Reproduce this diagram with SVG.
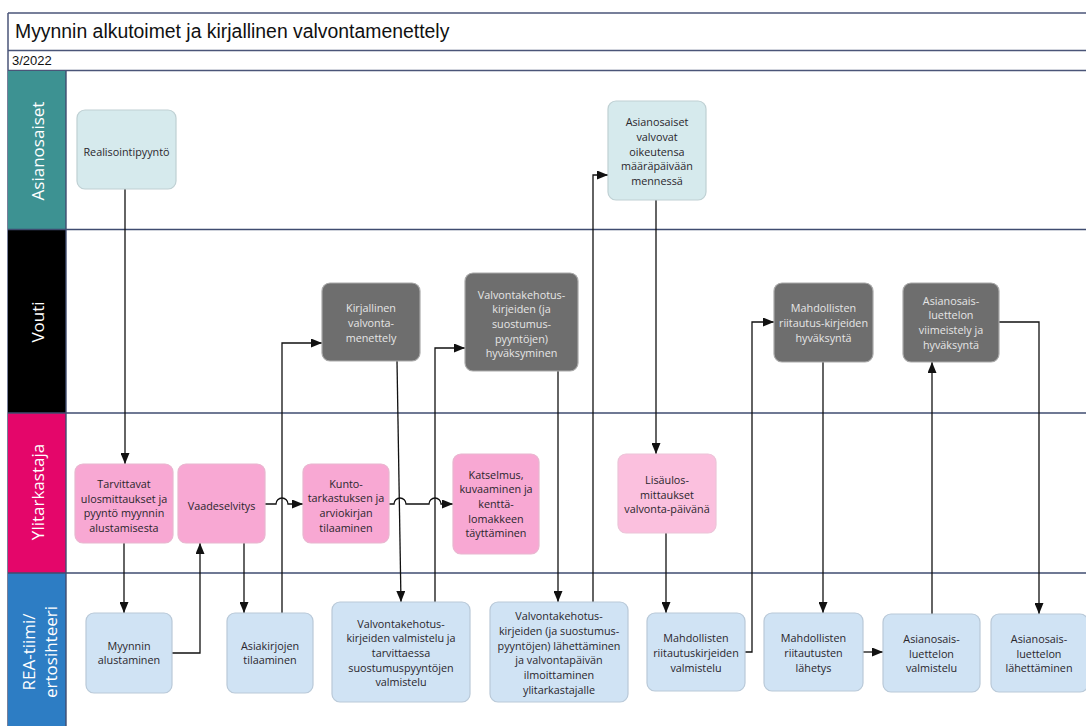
<svg xmlns="http://www.w3.org/2000/svg" width="1086" height="726" viewBox="0 0 1086 726">
<style>
.frame{stroke:#4a5578;stroke-width:1.5;fill:none}
.sep{stroke:#3f4c70;stroke-width:1.4}
.lane{font-family:"Open Sans","Noto Sans",sans-serif;font-size:17px;fill:#fff;text-anchor:middle;dominant-baseline:central}
.n rect{stroke-width:1.2}
.n text{font-family:"Open Sans","Noto Sans",sans-serif;font-size:10.8px;text-anchor:middle;dominant-baseline:central;fill:#2a262c}
.teal rect{fill:#d6eaed;stroke:#bfd0d3}
.pink rect{fill:#f8a8d3;stroke:#e8b6cf}
.lpink rect{fill:#fbc0de;stroke:#ecc4d8}
.gray rect{fill:#6e6e6e;stroke:#a9a9a9}
.gray text{fill:#e6e6e6}
.blue rect{fill:#d0e3f4;stroke:#b9c9d8}
#connectors path{fill:none;stroke:#111;stroke-width:1.3}
</style>
<defs>
<marker id="arr" markerUnits="userSpaceOnUse" markerWidth="11" markerHeight="9" refX="11" refY="4.5" orient="auto">
<path d="M0,0 L11,4.5 L0,9 z" fill="#111"/>
</marker>
</defs>
<rect x="0" y="0" width="1086" height="726" fill="#fff"/>
<g id="title">
<line class="frame" x1="8" y1="13" x2="1086" y2="13"/>
<line class="frame" x1="8" y1="50.5" x2="1086" y2="50.5"/>
<line class="frame" x1="8" y1="70.5" x2="1086" y2="70.5"/>
<line class="frame" x1="8" y1="13" x2="8" y2="726"/>
<text x="15" y="38" font-family="Liberation Sans, Arial, sans-serif" font-size="19.4" fill="#111">Myynnin alkutoimet ja kirjallinen valvontamenettely</text>
<text x="12" y="65" font-family="Liberation Sans, Arial, sans-serif" font-size="13" fill="#111">3/2022</text>
</g>
<g id="lanes">
<rect x="8" y="71" width="58" height="158.5" fill="#3d9292"/>
<rect x="8" y="229.5" width="58" height="183.5" fill="#000"/>
<rect x="8" y="413" width="58" height="160" fill="#e4066a"/>
<rect x="8" y="573" width="58" height="153" fill="#2d7dc4"/>
<line class="sep" x1="8" y1="229.5" x2="1086" y2="229.5"/>
<line class="sep" x1="8" y1="413" x2="1086" y2="413"/>
<line class="sep" x1="8" y1="573" x2="1086" y2="573"/>
<line class="sep" x1="66" y1="71" x2="66" y2="726"/>
<text class="lane" transform="translate(37,151) rotate(-90)">Asianosaiset</text>
<text class="lane" transform="translate(37,322) rotate(-90)">Vouti</text>
<text class="lane" transform="translate(37,492) rotate(-90)">Ylitarkastaja</text>
<text class="lane" transform="translate(39,652) rotate(-90)"><tspan x="0" y="-11">REA-tiimi/</tspan><tspan x="0" y="11">ertosihteeri</tspan></text>
</g>
<g id="connectors">
<path d="M125,189 V464" marker-end="url(#arr)"/>
<path d="M124,543 V613" marker-end="url(#arr)"/>
<path d="M172,653 H200 V543" marker-end="url(#arr)"/>
<path d="M244,543 V613" marker-end="url(#arr)"/>
<path d="M265,504 H276 a6,6 0 0 1 12,0 H303" marker-end="url(#arr)"/>
<path d="M282,613 V343 H322" marker-end="url(#arr)"/>
<path d="M389,504 H394 a6,6 0 0 1 12,0 H429 a6,6 0 0 1 12,0 H453" marker-end="url(#arr)"/>
<path d="M397,361 L401,602" marker-end="url(#arr)"/>
<path d="M435,602 V348 H465" marker-end="url(#arr)"/>
<path d="M558,371 V602" marker-end="url(#arr)"/>
<path d="M593,602 V175 H608" marker-end="url(#arr)"/>
<path d="M656,200 V454" marker-end="url(#arr)"/>
<path d="M666,533 V613" marker-end="url(#arr)"/>
<path d="M745,652 H752 V322 H774" marker-end="url(#arr)"/>
<path d="M823,362 V613" marker-end="url(#arr)"/>
<path d="M863,652 H883" marker-end="url(#arr)"/>
<path d="M932,614 V362" marker-end="url(#arr)"/>
<path d="M999,322 H1039 V614" marker-end="url(#arr)"/>
</g>
<g id="n1" class="n teal"><rect x="77" y="110" width="99" height="79" rx="8"/><text x="126.5" y="151">Realisointipyyntö</text></g>
<g id="n2" class="n pink"><rect x="75" y="464" width="98" height="79" rx="8"/><text x="124" y="505"><tspan x="124" dy="-22">Tarvittavat</tspan><tspan x="124" dy="14.7">ulosmittaukset ja</tspan><tspan x="124" dy="14.7">pyyntö myynnin</tspan><tspan x="124" dy="14.7">alustamisesta</tspan></text></g>
<g id="n3" class="n pink"><rect x="178" y="464" width="87" height="79" rx="8"/><text x="221.5" y="505">Vaadeselvitys</text></g>
<g id="n4" class="n blue"><rect x="86" y="613" width="86" height="80" rx="8"/><text x="129" y="652"><tspan x="129" dy="-7.35">Myynnin</tspan><tspan x="129" dy="14.7">alustaminen</tspan></text></g>
<g id="n5" class="n blue"><rect x="227" y="613" width="86" height="80" rx="8"/><text x="270" y="652"><tspan x="270" dy="-7.35">Asiakirjojen</tspan><tspan x="270" dy="14.7">tilaaminen</tspan></text></g>
<g id="n6" class="n gray"><rect x="322" y="283" width="98" height="78" rx="8"/><text x="371" y="322"><tspan x="371" dy="-14.7">Kirjallinen</tspan><tspan x="371" dy="14.7">valvonta-</tspan><tspan x="371" dy="14.7">menettely</tspan></text></g>
<g id="n7" class="n gray"><rect x="465" y="273" width="113" height="98" rx="8"/><text x="521.5" y="323"><tspan x="521.5" dy="-29.4">Valvontakehotus-</tspan><tspan x="521.5" dy="14.7">kirjeiden (ja</tspan><tspan x="521.5" dy="14.7">suostumus-</tspan><tspan x="521.5" dy="14.7">pyyntöjen)</tspan><tspan x="521.5" dy="14.7">hyväksyminen</tspan></text></g>
<g id="n8" class="n pink"><rect x="303" y="464" width="86" height="79" rx="8"/><text x="346" y="504.5"><tspan x="346" dy="-22">Kunto-</tspan><tspan x="346" dy="14.7">tarkastuksen ja</tspan><tspan x="346" dy="14.7">arviokirjan</tspan><tspan x="346" dy="14.7">tilaaminen</tspan></text></g>
<g id="n9" class="n pink"><rect x="453" y="454" width="86" height="100" rx="8"/><text x="496" y="503"><tspan x="496" dy="-29.4">Katselmus,</tspan><tspan x="496" dy="14.7">kuvaaminen ja</tspan><tspan x="496" dy="14.7">kenttä-</tspan><tspan x="496" dy="14.7">lomakkeen</tspan><tspan x="496" dy="14.7">täyttäminen</tspan></text></g>
<g id="n10" class="n blue"><rect x="332" y="602" width="138" height="100" rx="8"/><text x="401" y="652"><tspan x="401" dy="-29.4">Valvontakehotus-</tspan><tspan x="401" dy="14.7">kirjeiden valmistelu ja</tspan><tspan x="401" dy="14.7">tarvittaessa</tspan><tspan x="401" dy="14.7">suostumuspyyntöjen</tspan><tspan x="401" dy="14.7">valmistelu</tspan></text></g>
<g id="n11" class="n blue"><rect x="490" y="602" width="138" height="100" rx="8"/><text x="559" y="652"><tspan x="559" dy="-36.75">Valvontakehotus-</tspan><tspan x="559" dy="14.7">kirjeiden (ja suostumus-</tspan><tspan x="559" dy="14.7">pyyntöjen) lähettäminen</tspan><tspan x="559" dy="14.7">ja valvontapäivän</tspan><tspan x="559" dy="14.7">ilmoittaminen</tspan><tspan x="559" dy="14.7">ylitarkastajalle</tspan></text></g>
<g id="n12" class="n teal"><rect x="608" y="101" width="98" height="99" rx="8"/><text x="657" y="150.5"><tspan x="657" dy="-29.4">Asianosaiset</tspan><tspan x="657" dy="14.7">valvovat</tspan><tspan x="657" dy="14.7">oikeutensa</tspan><tspan x="657" dy="14.7">määräpäivään</tspan><tspan x="657" dy="14.7">mennessä</tspan></text></g>
<g id="n13" class="n lpink"><rect x="618" y="454" width="98" height="79" rx="8"/><text x="667" y="493.5"><tspan x="667" dy="-14.7">Lisäulos-</tspan><tspan x="667" dy="14.7">mittaukset</tspan><tspan x="667" dy="14.7">valvonta-päivänä</tspan></text></g>
<g id="n14" class="n blue"><rect x="647" y="613" width="98" height="78" rx="8"/><text x="696" y="652"><tspan x="696" dy="-14.7">Mahdollisten</tspan><tspan x="696" dy="14.7">riitautuskirjeiden</tspan><tspan x="696" dy="14.7">valmistelu</tspan></text></g>
<g id="n15" class="n blue"><rect x="764" y="613" width="99" height="78" rx="8"/><text x="813.5" y="652"><tspan x="813.5" dy="-14.7">Mahdollisten</tspan><tspan x="813.5" dy="14.7">riitautusten</tspan><tspan x="813.5" dy="14.7">lähetys</tspan></text></g>
<g id="n16" class="n gray"><rect x="774" y="283" width="99" height="79" rx="8"/><text x="823.5" y="322"><tspan x="823.5" dy="-14.7">Mahdollisten</tspan><tspan x="823.5" dy="14.7">riitautus-kirjeiden</tspan><tspan x="823.5" dy="14.7">hyväksyntä</tspan></text></g>
<g id="n17" class="n gray"><rect x="903" y="283" width="96" height="79" rx="8"/><text x="951" y="321.5"><tspan x="951" dy="-22">Asianosais-</tspan><tspan x="951" dy="14.7">luettelon</tspan><tspan x="951" dy="14.7">viimeistely ja</tspan><tspan x="951" dy="14.7">hyväksyntä</tspan></text></g>
<g id="n18" class="n blue"><rect x="883" y="614" width="97" height="78" rx="8"/><text x="931.5" y="652.5"><tspan x="931.5" dy="-14.7">Asianosais-</tspan><tspan x="931.5" dy="14.7">luettelon</tspan><tspan x="931.5" dy="14.7">valmistelu</tspan></text></g>
<g id="n19" class="n blue"><rect x="991" y="614" width="97" height="78" rx="8"/><text x="1039" y="652.5"><tspan x="1039" dy="-14.7">Asianosais-</tspan><tspan x="1039" dy="14.7">luettelon</tspan><tspan x="1039" dy="14.7">lähettäminen</tspan></text></g>
</svg>
